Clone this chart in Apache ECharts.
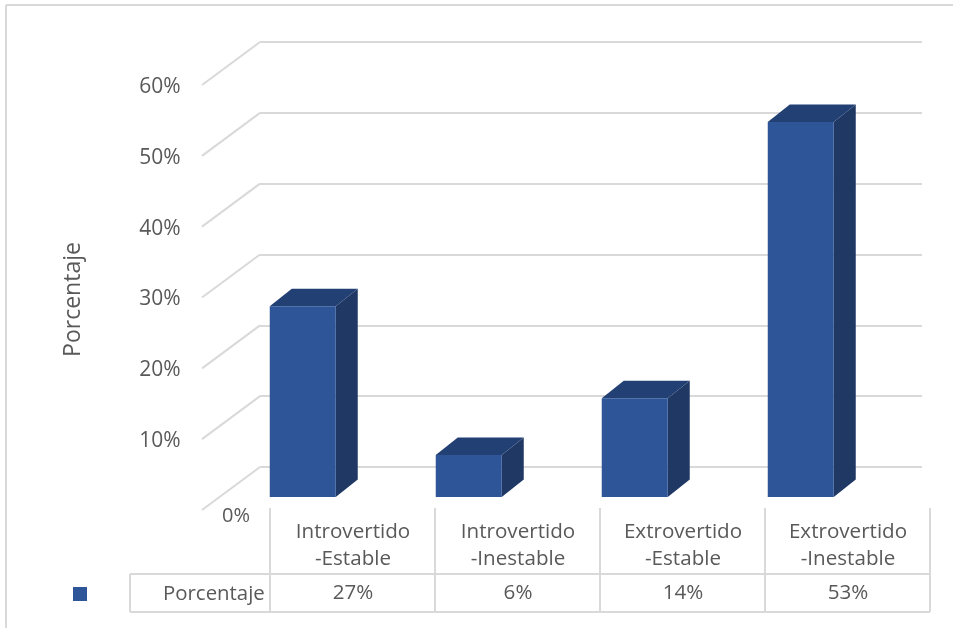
<!DOCTYPE html>
<html><head><meta charset="utf-8">
<style>html,body{margin:0;padding:0;background:#fff}#c{width:953px;height:628px}</style>
<script src="https://cdn.jsdelivr.net/npm/echarts@6/dist/echarts.min.js"></script>
</head><body><div id="c"></div>
<script>
const categories = ['Introvertido\n-Estable','Introvertido\n-Inestable','Extrovertido\n-Estable','Extrovertido\n-Inestable'];
const values = [27,6,14,53];
const ticks = [0,10,20,30,40,50,60];
const seriesName = 'Porcentaje';
const FONT = '"Open Sans"', GREY = '#595959', LINE = '#d9d9d9';
const chart = echarts.init(document.getElementById('c'));
const tableCols = [270,435,600,765,930];
const lineG = (x1,y1,x2,y2)=>({type:'line',shape:{x1,y1,x2,y2},style:{stroke:LINE,lineWidth:2},silent:true});
chart.setOption({
  animation:false,
  backgroundColor:'#fff',
  textStyle:{fontFamily:FONT},
  legend:{left:68,top:579,itemWidth:14,itemHeight:14,icon:'rect',data:[seriesName],selectedMode:false,
    textStyle:{color:GREY,fontFamily:FONT,fontSize:20.4,padding:[0,0,0,71]}},
  grid:[
    {left:260,width:662,top:42,height:425},
    {left:270.5,width:660,top:87,height:425}
  ],
  xAxis:[
    {gridIndex:0,type:'category',data:categories,axisLine:{show:false},axisTick:{show:false},axisLabel:{show:false}},
    {gridIndex:1,type:'category',position:'bottom',data:categories,axisLine:{show:false},axisTick:{show:false},
     axisLabel:{margin:7,color:GREY,fontFamily:FONT,fontSize:20.6,lineHeight:27}},
    {gridIndex:1,type:'category',position:'bottom',data:values.map(v=>v+'%'),axisLine:{show:false},axisTick:{show:false},
     axisLabel:{margin:71,color:GREY,fontFamily:FONT,fontSize:20.6}}
  ],
  yAxis:[
    {gridIndex:0,type:'value',min:0,max:60,interval:10,axisLine:{show:false},axisTick:{show:false},axisLabel:{show:false},
     splitLine:{show:true,lineStyle:{color:LINE,width:2}}},
    {gridIndex:1,type:'value',min:0,max:60,interval:10,axisLine:{show:false},axisTick:{show:false},splitLine:{show:false},
     axisLabel:{margin:90,color:GREY,fontFamily:FONT,fontSize:21,formatter:v=>v===0?'':v+'%'},
     name:seriesName,nameLocation:'middle',nameGap:186,nameRotate:90,
     nameTextStyle:{color:GREY,fontFamily:FONT,fontSize:23}}
  ],
  series:[
    {type:'custom',name:'wall',xAxisIndex:0,yAxisIndex:0,silent:true,z:1,data:ticks,
     renderItem(p,api){
       const pt=api.coord([0,api.value(0)]);
       const x0=260,y=pt[1];
       return {type:'line',shape:{x1:x0,y1:y,x2:x0-58,y2:y+43},style:{stroke:LINE,lineWidth:2}};
     },encode:{y:0}},
    {type:'custom',name:seriesName,xAxisIndex:0,yAxisIndex:0,silent:true,z:3,
     itemStyle:{color:'#2E5597'},
     data:values.map((v,i)=>[i,v]),
     encode:{x:0,y:1},
     renderItem(p,api){
       const c=api.coord([api.value(0),api.value(1)]);
       const b=api.coord([api.value(0),0]);
       const w=66,dx=22,dy=17.5;
       const L=c[0]-40-w/2+api.value(0)*0.5,R=L+w,T=c[1]+30.5,B=b[1]+30;
       return {type:'group',children:[
         {type:'polygon',shape:{points:[[R,T],[R+dx,T-dy],[R+dx,B-dy],[R,B]]},style:{fill:'#1F3864'}},
         {type:'polygon',shape:{points:[[L,T],[L+dx,T-dy],[R+dx,T-dy],[R,T]]},style:{fill:'#234074'}},
         {type:'rect',shape:{x:L,y:T,width:w,height:B-T},style:{fill:'#2E5597'}}
       ]};
     }}
  ],
  graphic:[
    lineG(6,5,953,5), lineG(6,5,6,628),
    ...tableCols.map(x=>lineG(x,508,x,612)),
    lineG(130,574,930,574), lineG(130,612,930,612), lineG(130,574,130,612),
    {type:'text',left:222,top:506,silent:true,
     style:{text:ticks[0]+'%',fill:GREY,font:'20px '+FONT}}
  ]
});
</script></body></html>
